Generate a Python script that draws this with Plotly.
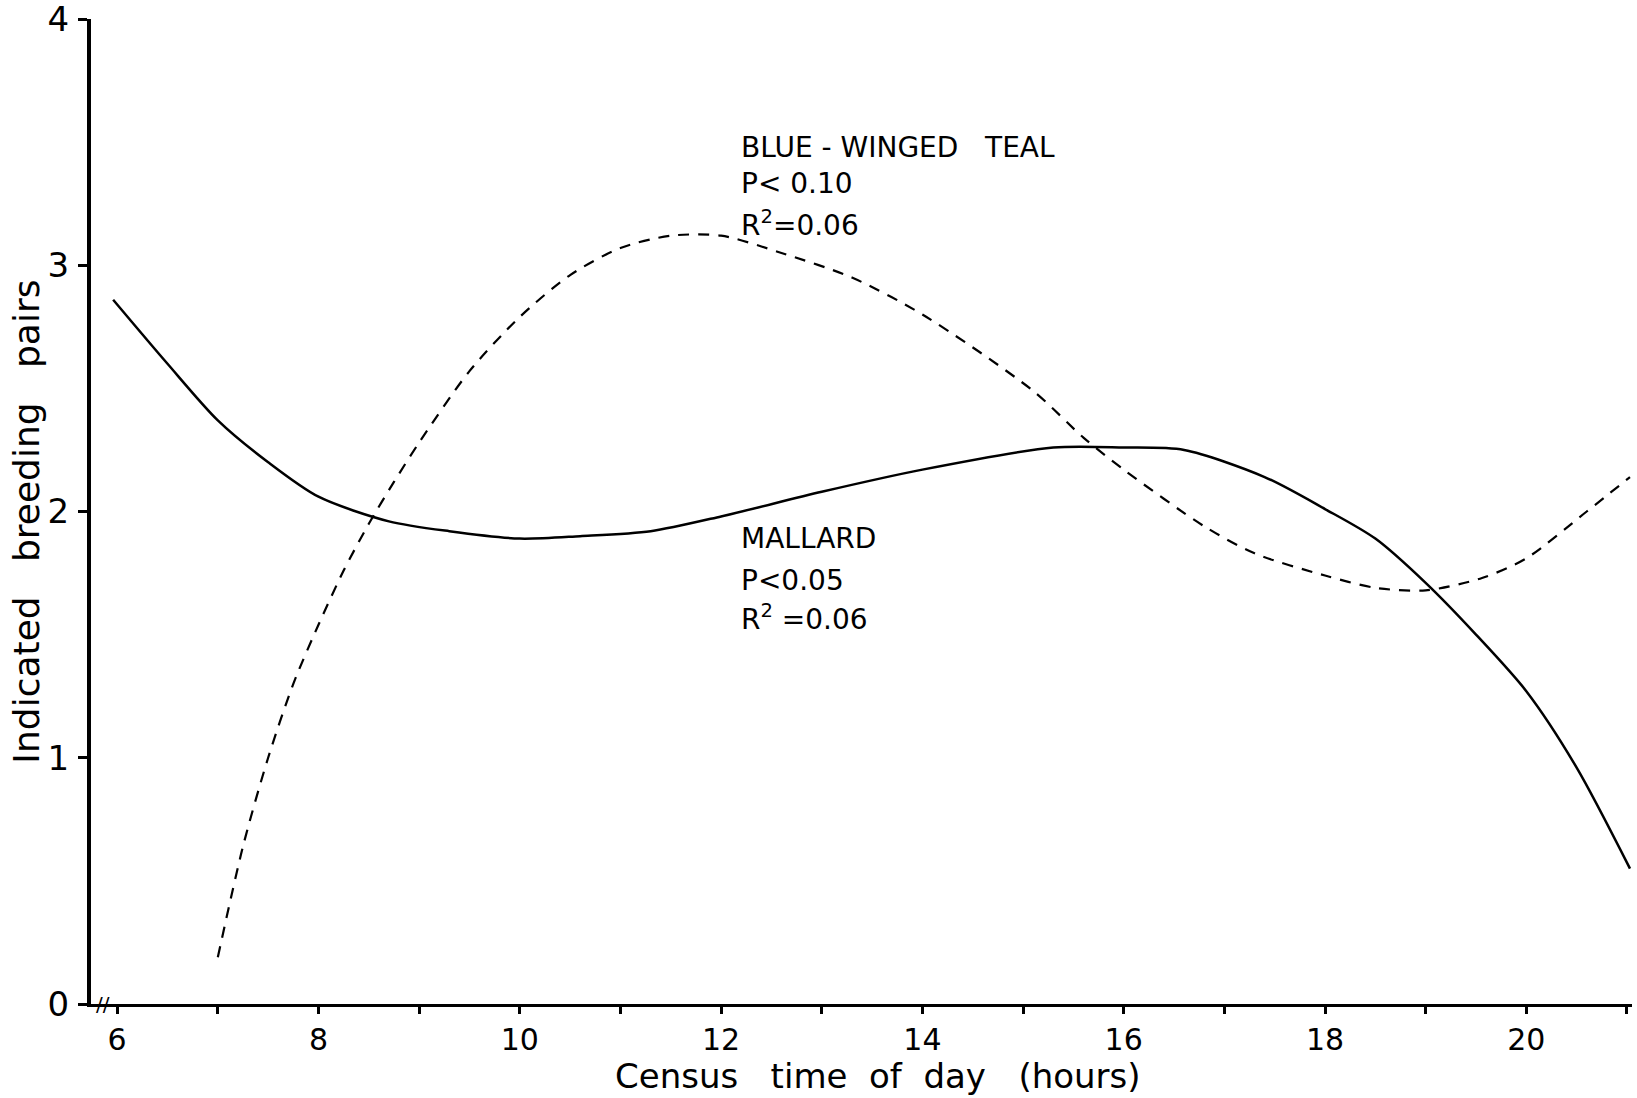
import plotly.graph_objects as go

# Mallard (solid)
mallard_hours = [5.96, 6.5, 7.0, 7.5, 8.0, 8.7, 9.3, 10.0, 10.6, 11.3, 12.0, 13.0, 14.0, 15.3, 16.0, 16.6, 17.4, 18.0, 18.5, 19.0, 19.5, 20.0, 20.5, 21.03]
mallard_pairs = [2.86, 2.60, 2.37, 2.20, 2.06, 1.96, 1.92, 1.89, 1.90, 1.92, 1.98, 2.08, 2.17, 2.26, 2.26, 2.25, 2.14, 2.01, 1.89, 1.71, 1.50, 1.27, 0.96, 0.55]

# Blue-winged teal (dashed)
teal_hours = [7.0, 7.25, 7.5, 7.75, 8.0, 8.25, 8.5, 8.75, 9.0, 9.5, 10.0, 10.5, 11.0, 11.5, 12.0, 12.6, 13.3, 14.0, 15.1, 15.6, 16.0, 16.8, 17.3, 18.0, 18.5, 19.0, 19.56, 20.0, 20.6, 21.03]
teal_pairs = [0.19, 0.64, 1.00, 1.30, 1.54, 1.76, 1.95, 2.12, 2.28, 2.57, 2.79, 2.96, 3.07, 3.12, 3.12, 3.05, 2.95, 2.80, 2.49, 2.30, 2.17, 1.94, 1.83, 1.74, 1.69, 1.68, 1.73, 1.81, 2.00, 2.14]

x_tick_vals = list(range(6, 22))
x_tick_text = ["6", "", "8", "", "10", "", "12", "", "14", "", "16", "", "18", "", "20", ""]
y_tick_vals = [0, 1, 2, 3, 4]
y_tick_text = ["0", "1", "2", "3", "4"]

FONT = "DejaVu Sans"

fig = go.Figure()
fig.add_trace(go.Scatter(x=mallard_hours, y=mallard_pairs, mode="lines",
                         line=dict(color="black", width=2.5, shape="spline", smoothing=0.8),
                         name="Mallard", hoverinfo="skip"))
fig.add_trace(go.Scatter(x=teal_hours, y=teal_pairs, mode="lines",
                         line=dict(color="black", width=2.2, dash="11px,9px", shape="spline", smoothing=0.8),
                         name="Blue-winged teal", hoverinfo="skip"))

annos = [
    ("BLUE - WINGED   TEAL", 3.48),
    ("P&lt; 0.10", 3.33),
    ("R<sup>2</sup>=0.06", 3.17),
    ("MALLARD", 1.89),
    ("P&lt;0.05", 1.72),
    ("R<sup>2</sup> =0.06", 1.57),
]
for txt, yv in annos:
    fig.add_annotation(x=12.18, y=yv, text=txt, showarrow=False, xanchor="left", yanchor="middle",
                       font=dict(family=FONT, size=28, color="black"))

# axis break mark
fig.add_annotation(x=5.86, y=0, text="//", showarrow=False, xanchor="center", yanchor="middle",
                   font=dict(family=FONT, size=20, color="black"))

# axis titles
fig.add_annotation(xref="paper", yref="paper", x=0.511, y=-0.073, text="Census   time  of  day   (hours)",
                   showarrow=False, xanchor="center", yanchor="middle",
                   font=dict(family=FONT, size=34, color="black"))
fig.add_annotation(xref="paper", yref="paper", x=-0.042, y=0.49, text="Indicated   breeding   pairs",
                   showarrow=False, xanchor="center", yanchor="middle", textangle=-90,
                   font=dict(family=FONT, size=36, color="black"))

fig.update_layout(
    width=1637, height=1098,
    margin=dict(l=91, r=5, t=19, b=94, autoexpand=False),
    paper_bgcolor="white", plot_bgcolor="white",
    showlegend=False,
    font=dict(family=FONT, color="black"),
    xaxis=dict(range=[5.74, 21.05], tickmode="array", tickvals=x_tick_vals, ticktext=x_tick_text,
               showgrid=False, zeroline=False, showline=True, linecolor="black", linewidth=3,
               ticks="outside", ticklen=7, tickwidth=3, tickcolor="black", automargin=False,
               tickfont=dict(family=FONT, size=30), ticklabelstandoff=0, ticklabeloverflow="allow"),
    yaxis=dict(range=[0, 4], tickmode="array", tickvals=y_tick_vals, ticktext=y_tick_text,
               showgrid=False, zeroline=False, showline=True, linecolor="black", linewidth=4,
               ticks="outside", ticklen=9, tickwidth=3, tickcolor="black", automargin=False,
               tickfont=dict(family=FONT, size=34), ticklabelstandoff=2, ticklabeloverflow="allow"),
)

fig.write_html("out.html", config={"displayModeBar": False},
               post_script="document.body.style.margin='0px';document.body.style.overflow='hidden';")
